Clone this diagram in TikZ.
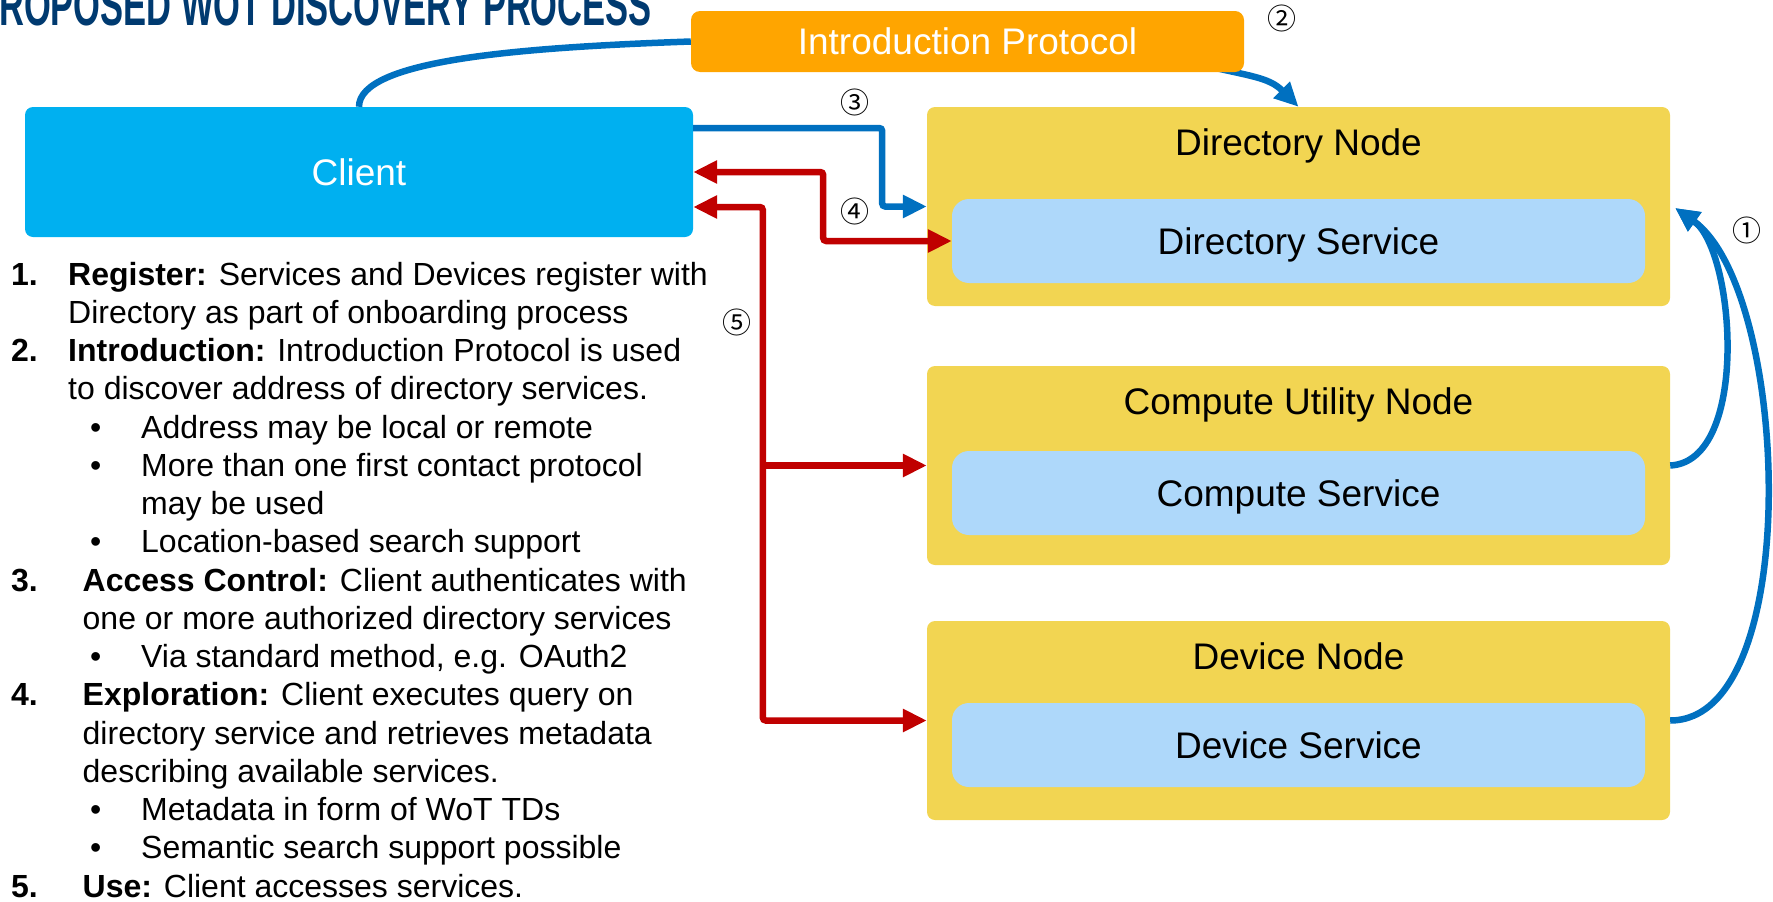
\documentclass[tikz,border=0pt]{standalone}
\usepackage{fontspec}
\setmainfont{Liberation Sans}
\newfontfamily\titlefont[FakeStretch=0.595]{Liberation Sans}
\newfontfamily\symfont{Noto Sans CJK SC}
\usetikzlibrary{arrows.meta,calc,backgrounds}

\definecolor{clientblue}{RGB}{0,176,240}
\definecolor{introorange}{RGB}{255,165,0}
\definecolor{nodeyellow}{RGB}{242,213,82}
\definecolor{svcblue}{RGB}{174,216,250}
\definecolor{linkblue}{RGB}{0,112,192}
\definecolor{linkred}{RGB}{192,0,0}
\definecolor{titleblue}{RGB}{0,58,112}

\tikzset{
  boxfont/.style={font=\fontsize{37}{44}\selectfont, text height=26.5pt, text depth=0pt},
  client/.style={rectangle, rounded corners=8pt, fill=clientblue, text=white, inner sep=0pt,
    minimum width=668pt, minimum height=130pt, boxfont},
  intro/.style={rectangle, rounded corners=9pt, fill=introorange, text=white, inner sep=0pt,
    minimum width=553pt, minimum height=61pt, boxfont},
  hostbox/.style={rectangle, rounded corners=8pt, fill=nodeyellow, inner sep=0pt,
    minimum width=743pt, minimum height=199pt},
  svcbox/.style={rectangle, rounded corners=17pt, fill=svcblue, inner sep=0pt,
    minimum width=693pt, minimum height=84pt, boxfont},
  hosttitle/.style={inner sep=0pt, boxfont},
  item/.style={anchor=base west, inner sep=0pt, font=\fontsize{32}{38}\selectfont},
  stepno/.style={item, font=\fontsize{32}{38}\selectfont\bfseries},
  circnum/.style={inner sep=0pt, font=\symfont\fontsize{29}{32}\selectfont},
  tipshape/.tip={Triangle[length=24pt,width=22pt]},
  link/.style={draw=linkblue, line width=6.5pt, rounded corners=3pt},
  redlink/.style={draw=linkred, line width=6.5pt, rounded corners=3pt},
}

\begin{document}
\begin{tikzpicture}[x=1pt, y=-1pt]
\useasboundingbox (0,0) rectangle (1773,902);
\clip (0,0) rectangle (1773,902);

% heading
\node[anchor=base west, inner sep=0pt, text=titleblue,
      font=\titlefont\bfseries\fontsize{58}{60}\selectfont] (heading) at (-1,25)
  {ROPOSED WOT DISCOVERY PROCESS};

% main boxes
\node[client] (client) at (359,172) {Client};
\node[intro] (intro) at (967.5,41.5) {Introduction Protocol};

\node[hostbox] (dirnode) at (1298.5,206.5) {};
\node[hosttitle] (dirtitle) at (1298.5,142) {Directory Node};
\node[svcbox] (dirsvc) at (1298.5,241) {Directory Service};

\node[hostbox] (compnode) at (1298.5,465.5) {};
\node[hosttitle] (comptitle) at (1298.5,401) {Compute Utility Node};
\node[svcbox] (compsvc) at (1298.5,493) {Compute Service};

\node[hostbox] (devnode) at (1298.5,720.5) {};
\node[hosttitle] (devtitle) at (1298.5,656) {Device Node};
\node[svcbox] (devsvc) at (1298.5,745) {Device Service};

% step markers
\node[circnum] (m1) at (1747,230) {①};
\node[circnum] (m2) at (1282,18) {②};
\node[circnum] (m3) at (855,102) {③};
\node[circnum] (m4) at (855,211) {④};
\node[circnum] (m5) at (737,322) {⑤};

% 2: introduction
\draw[link] (client.north) .. controls +(0,-47) and +(-170,6) .. (intro.west);
\begin{scope}[on background layer]
  \draw[link,-tipshape] ([xshift=-45pt,yshift=8pt]intro.south east)
    .. controls +(50,12) and +(-30,-30) .. (dirnode.north);
\end{scope}

% 3: access control
\draw[link,-tipshape] ([yshift=44pt]client.east) -- ++(189,0) |- (dirnode.west);

% 4: exploration
\draw[redlink,tipshape-tipshape] (client.east) -- ++(130,0) |- (dirsvc.west);

% 5: use
\draw[redlink,tipshape-tipshape] ([yshift=-35pt]client.east) -| ([xshift=-164pt]devnode.west) -- (devnode.west);
\draw[redlink,-tipshape] ([xshift=-164pt]compnode.west) -- (compnode.west);

% 1: registration
\coordinate (regtip) at ($(dirnode.east)+(5,1.5)$);
\draw[link,-tipshape] (compnode.east) .. controls +(80,-4) and +(60,42) .. (regtip);
\draw[link,-tipshape] (devnode.east) .. controls +(135,0) and +(115,82) .. (regtip);

% step list
\node[stepno] (n1) at (11,285.1) {1.};
\node[item] (l1) at (68,285.1) {\textbf{Register:} Services and Devices register with};
\node[item] (l2) at (68,323.3) {Directory as part of onboarding process};
\node[stepno] (n2) at (11,361.6) {2.};
\node[item] (l3) at (68,361.6) {\textbf{Introduction:} Introduction Protocol is used};
\node[item] (l4) at (68,399.8) {to discover address of directory services.};
\node[item] (b1) at (90,438.1) {•};
\node[item] (l5) at (141,438.1) {Address may be local or remote};
\node[item] (b2) at (90,476.3) {•};
\node[item] (l6) at (141,476.3) {More than one first contact protocol};
\node[item] (l7) at (141,514.5) {may be used};
\node[item] (b3) at (90,552.8) {•};
\node[item] (l8) at (141,552.8) {Location-based search support};
\node[stepno] (n3) at (11,591.0) {3.};
\node[item] (l9) at (82.5,591.0) {\textbf{Access Control:} Client authenticates with};
\node[item] (l10) at (82.5,629.3) {one or more authorized directory services};
\node[item] (b4) at (90,667.5) {•};
\node[item] (l11) at (141,667.5) {Via standard method, e.g. OAuth2};
\node[stepno] (n4) at (11,705.8) {4.};
\node[item] (l12) at (82.5,705.8) {\textbf{Exploration:} Client executes query on};
\node[item] (l13) at (82.5,744.0) {directory service and retrieves metadata};
\node[item] (l14) at (82.5,782.2) {describing available services.};
\node[item] (b5) at (90,820.5) {•};
\node[item] (l15) at (141,820.5) {Metadata in form of WoT TDs};
\node[item] (b6) at (90,858.7) {•};
\node[item] (l16) at (141,858.7) {Semantic search support possible};
\node[stepno] (n5) at (11,897.0) {5.};
\node[item] (l17) at (82.5,897.0) {\textbf{Use:} Client accesses services.};
\end{tikzpicture}
\end{document}
